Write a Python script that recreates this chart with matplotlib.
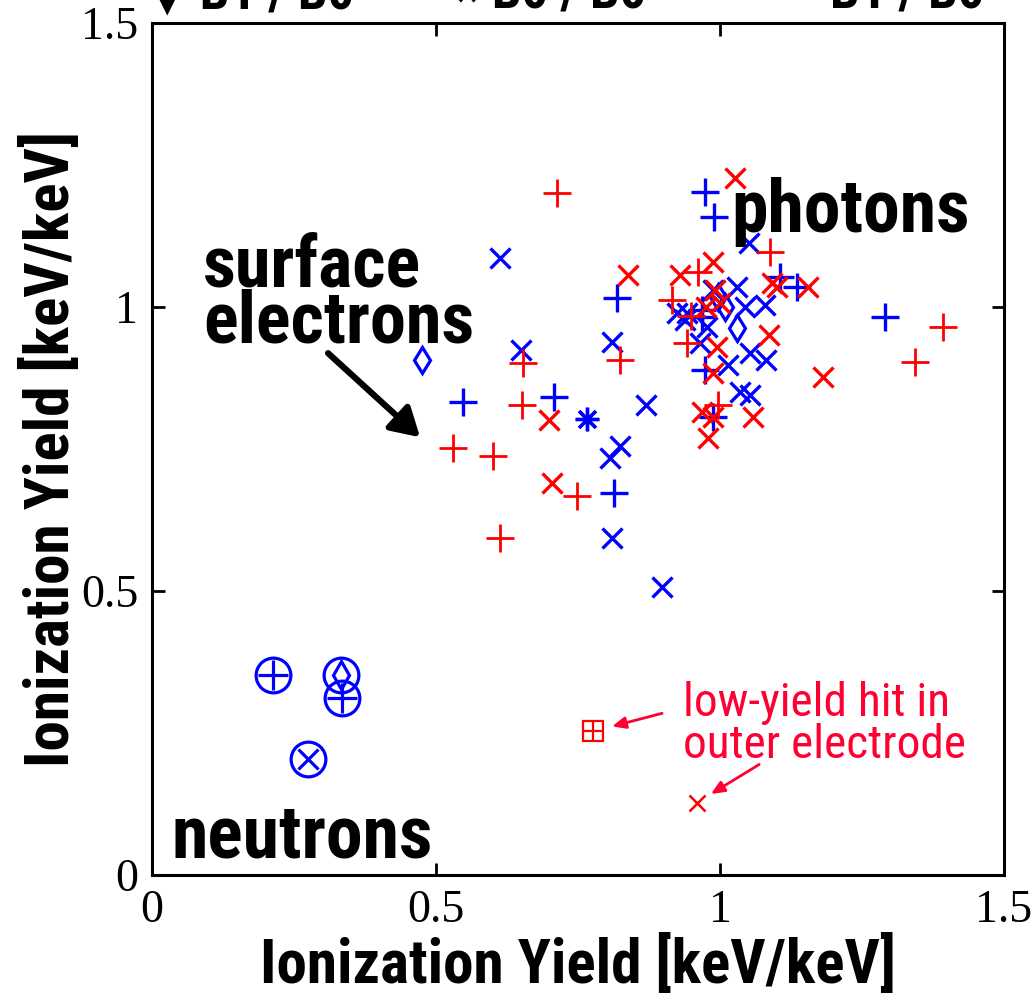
import matplotlib
matplotlib.use("Agg")
import matplotlib.pyplot as plt
from matplotlib import font_manager
import numpy as np

# pick a narrow sans if one is there
names = set(f.name for f in font_manager.fontManager.ttflist)
narrow = "Liberation Sans"
for cand in ["Liberation Sans Narrow", "Roboto Condensed", "DejaVu Sans Condensed"]:
    if cand in names:
        narrow = cand
        break
serif = "Liberation Serif"

# ---- data ----
# blue "+"
bp_x = [0.974, 0.989, 0.819, 0.548, 0.708, 0.813, 0.974, 0.988, 1.290, 1.136, 1.106, 0.968, 0.968]
bp_y = [1.202, 1.158, 1.016, 0.833, 0.842, 0.673, 0.889, 0.806, 0.982, 1.035, 1.053, 0.982, 0.995]
# blue "x"
bx_x = [0.613, 0.650, 1.051, 0.810, 0.824, 0.806, 0.898, 0.870, 1.081, 1.053, 1.035, 1.053,
        1.079, 1.044, 1.030, 0.924, 0.938, 0.977, 0.965, 1.014, 0.810, 0.987, 0.942]
bx_y = [1.086, 0.924, 1.113, 0.593, 0.755, 0.734, 0.507, 0.827, 0.907, 0.919, 0.850, 0.845,
        1.004, 1.000, 1.035, 0.989, 0.977, 0.965, 0.937, 0.898, 0.938, 1.030, 0.990]
# blue asterisk
bs_x = [0.766]
bs_y = [0.803]
# blue diamonds
bd_x = [0.475, 0.996, 1.009, 1.030]
bd_y = [0.907, 1.018, 1.000, 0.963]
# red "+"
rp_x = [0.713, 0.653, 0.651, 0.530, 0.600, 0.748, 0.613, 1.088, 0.961, 0.915, 0.942,
        0.824, 0.996, 1.393, 1.343, 0.949]
rp_y = [1.201, 0.901, 0.827, 0.752, 0.738, 0.667, 0.593, 1.097, 1.062, 1.012, 0.937,
        0.907, 0.827, 0.965, 0.903, 0.984]
# red "x"
rx_x = [1.026, 0.838, 0.930, 0.988, 0.991, 1.000, 1.092, 1.100, 1.155, 1.086, 1.181,
        0.995, 0.988, 0.968, 0.988, 0.979, 1.058, 0.699, 0.704, 0.975]
rx_y = [1.227, 1.056, 1.056, 1.079, 1.030, 1.007, 1.042, 1.035, 1.035, 0.951, 0.877,
        0.930, 0.884, 0.815, 0.806, 0.769, 0.806, 0.801, 0.690, 1.000]
# neutrons (circled)
n_x = [0.213, 0.333, 0.335, 0.275]
n_y = [0.352, 0.352, 0.312, 0.204]
n_mark = ["+", "d", "+", "x"]
# outer electrode hits
o_sq_x, o_sq_y = [0.776], [0.254]
o_x_x, o_x_y = [0.960], [0.127]

# legend row at the very top (mostly cut off)
leg_labels = ["\u25bc B1 / B0", "\u00d7 B0 / B0", "B1 / B0"]
leg_xpix = [147, 455, 830]

blue = "#0000ff"
red = "#ff0000"

fig = plt.figure(figsize=(10.34, 10.06), dpi=100)
ax = fig.add_axes([0.147, 0.130, 0.824, 0.847])

ax.plot(bp_x, bp_y, "+", color=blue, ms=20, mew=2.4, ls="none")
ax.plot(bx_x, bx_y, "x", color=blue, ms=14, mew=2.4, ls="none")
ax.plot(bs_x, bs_y, marker=(8, 2, 0), color=blue, ms=17, mew=2.4, ls="none")
ax.plot(bd_x, bd_y, "d", color=blue, mfc="none", ms=13, mew=2.3, ls="none")
ax.plot(rp_x, rp_y, "+", color=red, ms=20, mew=2.0, ls="none")
ax.plot(rx_x, rx_y, "x", color=red, ms=14, mew=2.4, ls="none")

for x, y, m in zip(n_x, n_y, n_mark):
    ax.plot(x, y, "o", color=blue, mfc="none", ms=25, mew=2.3)
    inner = 14 if m == "d" else (15 if m == "x" else 22)
    ax.plot(x, y, m, color=blue, mfc="none", ms=inner, mew=2.3)

ax.plot(o_sq_x, o_sq_y, "s", color=red, mfc="none", ms=14, mew=1.6)
ax.plot(o_sq_x, o_sq_y, "+", color=red, ms=14, mew=1.6)
ax.plot(o_x_x, o_x_y, "x", color=red, ms=12, mew=1.8)

ax.set_xlim(0, 1.5)
ax.set_ylim(0, 1.5)
ax.set_xticks([0, 0.5, 1, 1.5])
ax.set_yticks([0, 0.5, 1, 1.5])
ax.set_xticklabels(["0", "0.5", "1", "1.5"])
ax.set_yticklabels(["0", "0.5", "1", "1.5"])
ax.tick_params(direction="in", length=9, width=2, top=True, right=True,
               labelsize=33, pad=10)
for lab in ax.get_xticklabels() + ax.get_yticklabels():
    lab.set_family(serif)
for s in ax.spines.values():
    s.set_linewidth(2.2)

ax.set_xlabel("Ionization Yield [keV/keV]", family=narrow, fontsize=44,
              fontweight="bold", labelpad=2)
ax.set_ylabel("Ionization Yield [keV/keV]", family=narrow, fontsize=44,
              fontweight="bold", labelpad=0)

# labels inside the plot
ax.text(1.02, 1.132, "photons", family=narrow, fontsize=53, fontweight="bold",
        ha="left", va="baseline")
ax.text(0.09, 0.938, "surface\nelectrons", family=narrow, fontsize=52,
        fontweight="bold", ha="left", va="baseline", linespacing=0.76)
ax.text(0.035, 0.032, "neutrons", family=narrow, fontsize=53, fontweight="bold",
        ha="left", va="baseline")
ax.annotate("", xy=(0.472, 0.771), xytext=(0.31, 0.919),
            arrowprops=dict(arrowstyle="-|>,head_length=1.7,head_width=1.0",
                            color="black", lw=4.5, shrinkA=0, shrinkB=0))

txt_red = "#ff0033"
ax.text(0.935, 0.206, "low-yield hit in\nouter electrode", family=narrow,
        fontsize=34, color=txt_red, ha="left", va="baseline", linespacing=0.95)
ax.annotate("", xy=(0.810, 0.262), xytext=(0.898, 0.285),
            arrowprops=dict(arrowstyle="-|>,head_length=0.8,head_width=0.35",
                            color=txt_red, lw=2, shrinkA=0, shrinkB=0))
ax.annotate("", xy=(0.984, 0.143), xytext=(1.069, 0.195),
            arrowprops=dict(arrowstyle="-|>,head_length=0.8,head_width=0.35",
                            color=txt_red, lw=2, shrinkA=0, shrinkB=0))

leg_fam = [narrow, "DejaVu Sans"]
top_y = 1 - 9 / 1006
for lab, xp in zip(leg_labels, leg_xpix):
    fig.text(xp / 1034, top_y, lab, family=leg_fam, fontsize=38,
             fontweight="bold", va="baseline")

fig.savefig("out.png", dpi=100)
